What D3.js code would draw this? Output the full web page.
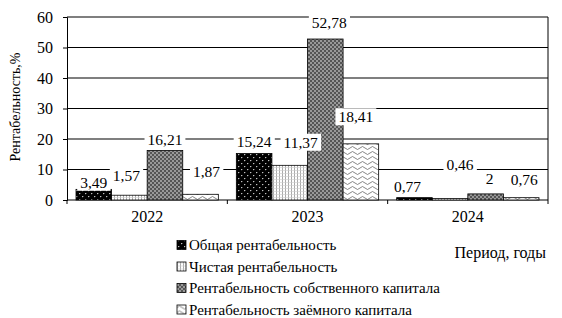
<!DOCTYPE html>
<html>
<head>
<meta charset="utf-8">
<script src="https://d3js.org/d3.v7.min.js"></script>
<style>
  body { margin: 0; background: #fff; }
</style>
</head>
<body>
<svg id="chart" width="562" height="318"></svg>
<script>
// data
var years = ['2022', '2023', '2024'];
var seriesNames = [
  'Общая рентабельность',
  'Чистая рентабельность',
  'Рентабельность собственного капитала',
  'Рентабельность заёмного капитала'
];
var general = [3.49, 15.24, 0.77];
var net = [1.57, 11.37, 0.46];
var equity = [16.21, 52.78, 2];
var borrowed = [1.87, 18.41, 0.76];
var yTicks = [0, 10, 20, 30, 40, 50, 60];

// small nudges so labels sit where they did in the original
var labelShift = [
  [[0, 6], [-3, -7], [0, 2], [6, -10]],
  [[0, 1], [11, -10], [4, -3], [-5, -14]],
  [[-7, 2], [10, -21], [4, -2], [3, -5]]
];

var FONT = 'Liberation Serif, DejaVu Serif, serif';
var values = [general, net, equity, borrowed];
var svg = d3.select('#chart').style('font-family', FONT);
var defs = svg.append('defs');

// fill patterns
var p0 = defs.append('pattern').attr('id', 'p0').attr('patternUnits', 'userSpaceOnUse')
  .attr('width', 6).attr('height', 6);
p0.append('rect').attr('width', 6).attr('height', 6).attr('fill', '#000');
p0.append('path').attr('d', 'M1,1 l1.5,0 l-0.75,1.5 z M4,4 l1.5,0 l-0.75,1.5 z').attr('fill', '#fff');

var p1 = defs.append('pattern').attr('id', 'p1').attr('patternUnits', 'userSpaceOnUse')
  .attr('width', 3).attr('height', 3);
p1.append('rect').attr('width', 3).attr('height', 3).attr('fill', '#fff');
p1.append('rect').attr('x', 0).attr('width', 1).attr('height', 3).attr('fill', '#aaa');
p1.append('rect').attr('y', 2).attr('width', 3).attr('height', 0.6).attr('fill', '#ccc');

var p2 = defs.append('pattern').attr('id', 'p2').attr('patternUnits', 'userSpaceOnUse')
  .attr('width', 4).attr('height', 4);
p2.append('rect').attr('width', 4).attr('height', 4).attr('fill', '#555');
p2.append('rect').attr('width', 2).attr('height', 2).attr('fill', '#999');
p2.append('rect').attr('x', 2).attr('y', 2).attr('width', 2).attr('height', 2).attr('fill', '#999');

var p3 = defs.append('pattern').attr('id', 'p3').attr('patternUnits', 'userSpaceOnUse')
  .attr('width', 10).attr('height', 5);
p3.append('rect').attr('width', 10).attr('height', 5).attr('fill', '#fff');
p3.append('path').attr('d', 'M0,3 Q2.5,0 5,3 T10,3').attr('fill', 'none')
  .attr('stroke', '#666').attr('stroke-width', 0.8);

var fills = ['url(#p0)', 'url(#p1)', 'url(#p2)', 'url(#p3)'];

var plotL = 67, plotR = 548, plotT = 17, plotB = 200;
var x = d3.scaleBand().domain(years).range([plotL, plotR]);
var x1 = d3.scaleBand().domain(d3.range(4)).range([9, x.bandwidth() - 9]);
var y = d3.scaleLinear().domain([0, 60]).range([plotB, plotT]);

// grid
svg.append('g').selectAll('line').data(yTicks.slice(1)).join('line')
  .attr('x1', plotL).attr('x2', plotR)
  .attr('y1', function(d) { return y(d); }).attr('y2', function(d) { return y(d); })
  .attr('stroke', '#000').attr('stroke-width', 1.2);
svg.append('line').attr('x1', plotR).attr('x2', plotR).attr('y1', plotT).attr('y2', plotB)
  .attr('stroke', '#000').attr('stroke-width', 1);

// axes
var yAxis = svg.append('g').attr('transform', 'translate(' + plotL + ',0)')
  .call(d3.axisLeft(y).tickValues(yTicks).tickSize(4).tickPadding(10));
yAxis.attr('font-family', FONT).attr('font-size', 16);
yAxis.selectAll('line, path').attr('stroke', '#000');

var xAxis = svg.append('g').attr('transform', 'translate(0,' + plotB + ')')
  .call(d3.axisBottom(x).tickSize(0).tickPadding(11));
xAxis.attr('font-family', FONT).attr('font-size', 16);
xAxis.select('path').attr('stroke', '#000').attr('d', 'M' + plotL + ',0H' + plotR);
xAxis.append('g').selectAll('line').data(years.concat(['end'])).join('line')
  .attr('x1', function(d, i) { return plotL + i * x.bandwidth(); })
  .attr('x2', function(d, i) { return plotL + i * x.bandwidth(); })
  .attr('y1', 0).attr('y2', 4).attr('stroke', '#000');

// bars
var bars = [];
years.forEach(function(yr, i) {
  values.forEach(function(arr, s) {
    bars.push({ year: yr, yi: i, s: s, v: arr[i] });
  });
});

svg.append('g').selectAll('rect').data(bars).join('rect')
  .attr('x', function(d) { return x(d.year) + x1(d.s); })
  .attr('width', x1.bandwidth())
  .attr('y', function(d) { return y(d.v); })
  .attr('height', function(d) { return plotB - y(d.v); })
  .attr('fill', function(d) { return fills[d.s]; })
  .attr('stroke', '#000').attr('stroke-width', 0.8);

// labels with white boxes
var lab = svg.append('g').attr('font-family', FONT).attr('font-size', 15.5)
  .selectAll('g').data(bars).join('g')
  .attr('transform', function(d) {
    var sh = labelShift[d.yi][d.s];
    var cx = x(d.year) + x1(d.s) + x1.bandwidth() / 2 + sh[0];
    var cy = y(d.v) - 13 + sh[1];
    return 'translate(' + cx + ',' + cy + ')';
  });
lab.append('text')
  .attr('text-anchor', 'middle').attr('dy', '0.35em')
  .text(function(d) { return String(d.v).replace('.', ','); });
lab.each(function() {
  var g = d3.select(this);
  var b = g.select('text').node().getBBox();
  g.insert('rect', 'text').attr('x', b.x - 3).attr('y', b.y)
    .attr('width', b.width + 6).attr('height', b.height).attr('fill', '#fff');
});

// axis titles
svg.append('text').attr('transform', 'translate(20,' + 107 + ') rotate(-90)')
  .attr('text-anchor', 'middle').attr('font-family', FONT).attr('font-size', 14)
  .text('Рентабельность,%');
svg.append('text').attr('x', 546).attr('y', 258).attr('text-anchor', 'end')
  .attr('font-family', FONT).attr('font-size', 16).text('Период, годы');

// legend
var leg = svg.append('g').attr('font-family', FONT).attr('font-size', 15)
  .selectAll('g').data(seriesNames).join('g')
  .attr('transform', function(d, i) { return 'translate(177,' + (245 + i * 21.5) + ')'; });
leg.append('rect').attr('x', 0).attr('y', -4.5).attr('width', 9).attr('height', 9)
  .attr('fill', function(d, i) { return fills[i]; })
  .attr('stroke', '#000').attr('stroke-width', 0.8);
leg.append('text').attr('x', 12).attr('dy', '0.35em')
  .text(function(d) { return d; });
</script>
</body>
</html>
